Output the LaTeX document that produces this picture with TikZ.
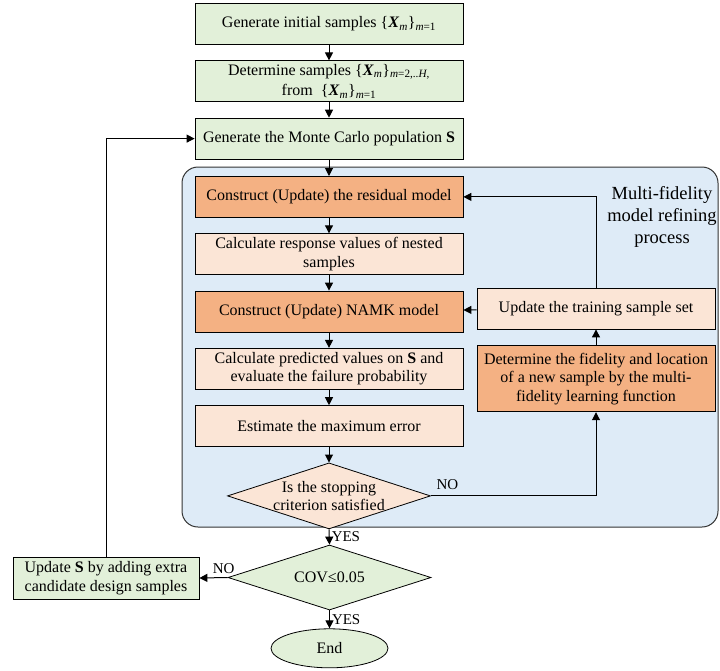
\documentclass[tikz,border=0pt]{standalone}
\usepackage{fontspec}
\setmainfont{Liberation Serif}
\usepackage{xcolor}
\usetikzlibrary{arrows.meta,positioning,shapes.geometric}

\definecolor{greenbox}{HTML}{E2F0D9}
\definecolor{darkorange}{HTML}{F4B183}
\definecolor{lightorange}{HTML}{FBE5D6}
\definecolor{regionblue}{HTML}{DEEBF7}
\newcommand{\boxfont}{\fontsize{16}{18.5}\selectfont}
\newcommand{\labfont}{\fontsize{15}{17}\selectfont}
\newcommand{\Xset}[1]{\{\textbf{\textit{X}}\textsubscript{\textit{m}}\}\textsubscript{#1}}

\begin{document}
\begin{tikzpicture}[
  x=1pt,y=1pt,
  node distance=15.5pt,
  box/.style={draw=black,line width=0.8pt,align=center,font=\boxfont,
    minimum width=268pt,minimum height=41pt,inner sep=3pt},
  sidebox/.style={box,minimum width=238pt},
  decision/.style={diamond,draw=black,line width=0.8pt,inner sep=0pt,
    minimum width=203pt,minimum height=66pt},
  region/.style={draw=black!80,line width=1pt,fill=regionblue,
    rounded corners=16pt,minimum width=536pt,minimum height=360pt},
  arrow/.style={-{Triangle[length=8pt,width=8pt]},line width=1pt},
  tag/.style={font=\labfont,inner sep=2pt}
]
\useasboundingbox (0,0) rectangle (720,-670);
% refining loop background
\node[region] (region) at (450,-347) {};
\node[font=\fontsize{18.5}{22}\selectfont,align=center] (regiontitle) at (662,-217)
  {Multi-fidelity\\model refining\\process};

\node[box,fill=greenbox] (init) at (329,-24) {Generate initial samples \Xset{\textit{m}=1}};
\node[box,fill=greenbox,below=of init] (nested) {Determine samples
  \Xset{\textit{m}=2,..\textit{H},}\\[2pt] from \ \Xset{\textit{m}=1}};
\node[box,fill=greenbox,below=of nested] (mcs) {Generate the Monte Carlo population \textbf{S}};

\node[box,fill=darkorange,below=16.5pt of mcs] (resid) {Construct (Update) the residual model};
\node[box,fill=lightorange,below=of resid] (resp) {Calculate response values of nested\\samples};
\node[box,fill=darkorange,below=of resp] (namk) {Construct (Update) NAMK model};
\node[box,fill=lightorange,below=of namk] (pred) {Calculate predicted values on \textbf{S} and\\evaluate the failure probability};
\node[box,fill=lightorange,below=of pred] (maxerr) {Estimate the maximum error};
\node[decision,fill=lightorange,below=of maxerr,
  label={[font=\boxfont,align=center]center:Is the stopping\\criterion satisfied}] (stop) {};

\node[sidebox,fill=lightorange] (train) at (596,-308.5) {Update the training sample set};
\node[sidebox,fill=darkorange,below=16pt of train,minimum height=66pt] (learn)
  {Determine the fidelity and location\\of a new sample by the multi-\\fidelity learning function};

\node[decision,fill=greenbox,minimum height=65pt,
  label={[font=\boxfont]center:COV≤0.05}] (cov) at (329.5,-577.5) {};
\node[ellipse,draw=black,line width=0.8pt,fill=greenbox,font=\boxfont,
  minimum width=117pt,minimum height=39pt,inner sep=0pt,below=18pt of cov] (stopend) {End};
\node[box,fill=greenbox,minimum width=186pt,minimum height=42pt] (enlarge) at (106,-578)
  {Update \textbf{S} by adding extra\\candidate design samples};

\draw[arrow] (init) -- (nested);
\draw[arrow] (nested) -- (mcs);
\draw[arrow] (mcs) -- (resid);
\draw[arrow] (resid) -- (resp);
\draw[arrow] (resp) -- (namk);
\draw[arrow] (namk) -- (pred);
\draw[arrow] (pred) -- (maxerr);
\draw[arrow] (maxerr) -- (stop);
\draw[arrow] (stop.east) -| node[tag,pos=0.05,above,yshift=4pt] {NO} (learn.south);
\draw[arrow] (learn) -- (train);
\draw[arrow] (train) -- (namk);
\draw[arrow] (train.north) |- (resid.east);
\draw[arrow] (stop.south) -- node[tag,right] {YES} (cov.north);
\draw[arrow] (cov.south) -- node[tag,right] {YES} (stopend.north);
\draw[arrow] (cov.west) -- node[tag,pos=0.14,above,yshift=1pt] {NO} (enlarge.east);
\draw[arrow] (enlarge.north) |- (mcs.west);
\end{tikzpicture}
\end{document}
